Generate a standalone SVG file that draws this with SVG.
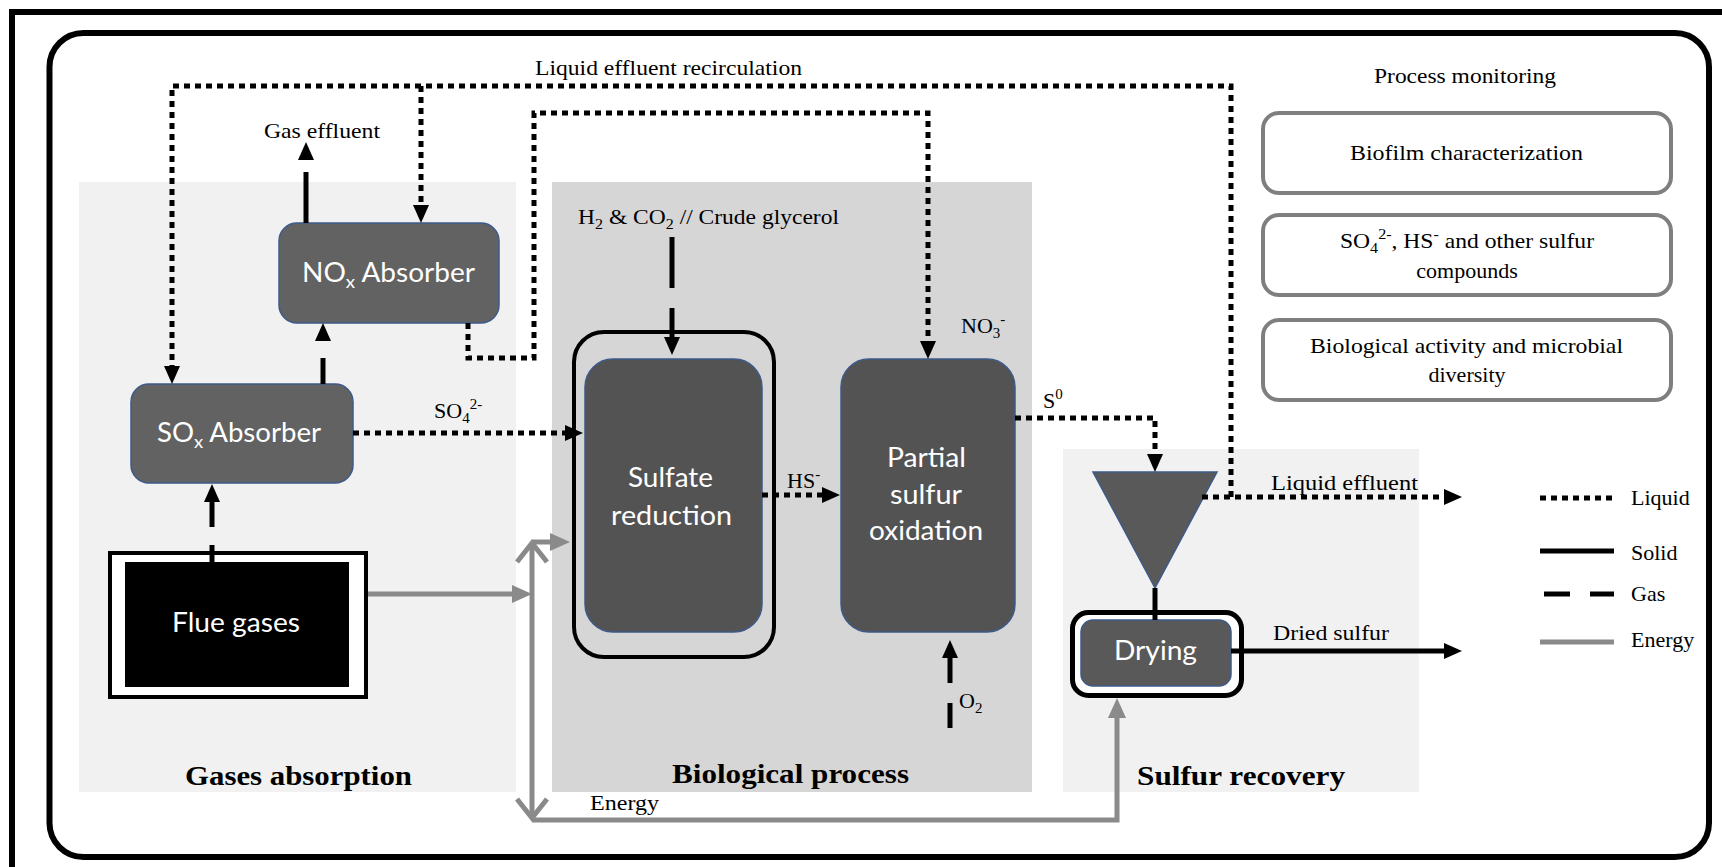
<svg xmlns="http://www.w3.org/2000/svg" width="1722" height="867" viewBox="0 0 1722 867">
<defs>
<style>
.t{font-family:"Liberation Serif","Times New Roman",serif;font-size:22px;fill:#000}
.tb{font-family:"Liberation Serif","Times New Roman",serif;font-size:28px;font-weight:bold;fill:#000}
.n{font-family:Lato,"Open Sans",sans-serif;font-size:27px;fill:#fff}
.s{font-size:15px}
.ns{font-size:18px}
.liq{fill:none;stroke:#000;stroke-width:5;stroke-dasharray:6 5}
.sol{fill:none;stroke:#000;stroke-width:5}
.en{fill:none;stroke:#8a8a8a;stroke-width:5}
.ah{fill:#000}
.box{fill:#626262;stroke:#3d5a8a;stroke-width:1.5}
.box2{fill:#535353;stroke:#3d5a8a;stroke-width:1.5}
.mon{fill:#fff;stroke:#7f7f7f;stroke-width:4}
.reg1{fill:#f1f1f1}
.reg2{fill:#d7d6d7}
</style>
<marker id="ab" markerUnits="userSpaceOnUse" markerWidth="18" markerHeight="16" refX="0" refY="8" orient="auto"><path d="M0,0 L18,8 L0,16 z" fill="#000"/></marker>
<marker id="ag" markerUnits="userSpaceOnUse" markerWidth="20" markerHeight="18" refX="0" refY="9" orient="auto"><path d="M0,0 L20,9 L0,18 z" fill="#8a8a8a"/></marker>
</defs>

<!-- frames -->
<path d="M12,867 V12 H1722" fill="none" stroke="#000" stroke-width="6"/>
<rect x="49.5" y="33" width="1659.5" height="824" rx="34" fill="#fff" stroke="#000" stroke-width="6"/>

<!-- regions -->
<g id="region-gases">
<rect class="reg1" x="79" y="182" width="437" height="610"/>
<text class="tb" x="185" y="785" textLength="227" lengthAdjust="spacingAndGlyphs">Gases absorption</text>
</g>
<g id="region-bio">
<rect class="reg2" x="552" y="182" width="480" height="610"/>
<text class="tb" x="672" y="783" textLength="237" lengthAdjust="spacingAndGlyphs">Biological process</text>
</g>
<g id="region-sulfur">
<rect class="reg1" x="1063" y="449" width="356" height="343"/>
<text class="tb" x="1137" y="785" textLength="208" lengthAdjust="spacingAndGlyphs">Sulfur recovery</text>
</g>

<!-- nodes -->
<g id="nox">
<rect class="box" x="279" y="223" width="220" height="100" rx="18"/>
<text class="n" x="302" y="282" textLength="173" lengthAdjust="spacingAndGlyphs">NO<tspan class="ns" dy="6">x</tspan><tspan dy="-6"> Absorber</tspan></text>
</g>
<g id="sox">
<rect class="box" x="131" y="384" width="222" height="99" rx="18"/>
<text class="n" x="157" y="442" textLength="164" lengthAdjust="spacingAndGlyphs">SO<tspan class="ns" dy="6">x</tspan><tspan dy="-6"> Absorber</tspan></text>
</g>
<g id="flue">
<rect x="110" y="553" width="256" height="144" fill="#fff" stroke="#000" stroke-width="4"/>
<rect x="125" y="562" width="224" height="125" fill="#000"/>
<text class="n" x="172" y="632" textLength="128" lengthAdjust="spacingAndGlyphs">Flue gases</text>
</g>
<g id="sulfate">
<rect x="574" y="332" width="200" height="325" rx="30" fill="none" stroke="#000" stroke-width="4"/>
<rect class="box2" x="585" y="359" width="177" height="273" rx="28"/>
<text class="n" x="628" y="487" textLength="85" lengthAdjust="spacingAndGlyphs">Sulfate</text>
<text class="n" x="611" y="525" textLength="121" lengthAdjust="spacingAndGlyphs">reduction</text>
</g>
<g id="partial">
<rect class="box2" x="841" y="359" width="174" height="273" rx="28"/>
<text class="n" x="887" y="467" textLength="79" lengthAdjust="spacingAndGlyphs">Partial</text>
<text class="n" x="890" y="504" textLength="72" lengthAdjust="spacingAndGlyphs">sulfur</text>
<text class="n" x="869" y="540" textLength="114" lengthAdjust="spacingAndGlyphs">oxidation</text>
</g>
<g id="settler">
<polygon points="1093,472 1217,472 1155,588" fill="#595959" stroke="#3d5a8a" stroke-width="1.5"/>
</g>
<g id="drying">
<rect x="1072.5" y="612.5" width="169" height="83" rx="16" fill="#fff" stroke="#000" stroke-width="5"/>
<rect x="1081" y="620" width="150" height="66" rx="12" fill="#595959" stroke="#3d5a8a" stroke-width="1.5"/>
<text class="n" x="1114" y="660" textLength="83" lengthAdjust="spacingAndGlyphs">Drying</text>
</g>

<g id="monitoring">
<text class="t" x="1374" y="83" textLength="182" lengthAdjust="spacingAndGlyphs">Process monitoring</text>
<g id="mon1">
<rect class="mon" x="1263" y="113" width="408" height="80" rx="16"/>
<text class="t" x="1350" y="160" textLength="233" lengthAdjust="spacingAndGlyphs">Biofilm  characterization</text>
</g>
<g id="mon2">
<rect class="mon" x="1263" y="215" width="408" height="80" rx="16"/>
<text class="t" x="1340" y="248" textLength="254" lengthAdjust="spacingAndGlyphs">SO<tspan class="s" dy="5">4</tspan><tspan class="s" dy="-14">2-</tspan><tspan dy="9">, HS</tspan><tspan class="s" dy="-9">-</tspan><tspan dy="9"> and other sulfur</tspan></text>
<text class="t" x="1467" y="278" text-anchor="middle">compounds</text>
</g>
<g id="mon3">
<rect class="mon" x="1263" y="320" width="408" height="80" rx="16"/>
<text class="t" x="1310" y="353" textLength="313" lengthAdjust="spacingAndGlyphs">Biological  activity and microbial</text>
<text class="t" x="1467" y="382" text-anchor="middle">diversity</text>
</g>
</g>

<!-- connectors -->
<g id="connectors">
<path class="liq" d="M1231,497 V86 H172 V366" marker-end="url(#ab)"/>
<path class="liq" d="M421,86 V205" marker-end="url(#ab)"/>
<path class="liq" d="M468,323 V358 H534 V113 H928 V341" marker-end="url(#ab)"/>
<path class="liq" d="M353,433 H565" marker-end="url(#ab)"/>
<path class="liq" d="M762,495 H822" marker-end="url(#ab)"/>
<path class="liq" d="M1015,418 H1155 V454" marker-end="url(#ab)"/>
<path class="liq" d="M1202,497 H1444" marker-end="url(#ab)"/>

<line class="sol" x1="306" y1="223" x2="306" y2="172"/>
<polygon class="ah" points="298,160 314,160 306,142"/>
<line class="sol" x1="323" y1="384" x2="323" y2="358"/>
<polygon class="ah" points="315,341 331,341 323,323"/>
<line class="sol" x1="212" y1="545" x2="212" y2="562"/>
<path class="sol" d="M212,527 V502" marker-end="url(#ab)"/>
<line class="sol" x1="672" y1="237" x2="672" y2="288"/>
<path class="sol" d="M672,308 V337" marker-end="url(#ab)"/>
<line class="sol" x1="950" y1="703" x2="950" y2="728"/>
<path class="sol" d="M950,683 V658" marker-end="url(#ab)"/>
<line class="sol" x1="1155" y1="588" x2="1155" y2="620"/>
<path class="sol" d="M1231,651 H1444" marker-end="url(#ab)"/>

<path class="en" d="M368,594 H512" marker-end="url(#ag)"/>
<path class="en" d="M532,544 V818"/>
<polyline class="en" points="517,562 532,543 547,562"/>
<polyline class="en" points="517,799 532,818 547,799"/>
<path class="en" d="M532,542 H550" marker-end="url(#ag)"/>
<path class="en" d="M532,820 H1117 V718" marker-end="url(#ag)"/>

<text class="t" x="535" y="75" textLength="267" lengthAdjust="spacingAndGlyphs">Liquid  effluent recirculation</text>
<text class="t" x="264" y="138" textLength="116" lengthAdjust="spacingAndGlyphs">Gas effluent</text>
<text class="t" x="578" y="224" textLength="261" lengthAdjust="spacingAndGlyphs">H<tspan class="s" dy="5">2</tspan><tspan dy="-5"> &amp; CO</tspan><tspan class="s" dy="5">2</tspan><tspan dy="-5"> // Crude glycerol</tspan></text>
<text class="t" x="961" y="333">NO<tspan class="s" dy="5">3</tspan><tspan class="s" dy="-14">-</tspan></text>
<text class="t" x="434" y="418">SO<tspan class="s" dy="5">4</tspan><tspan class="s" dy="-14">2-</tspan></text>
<text class="t" x="1043" y="408">S<tspan class="s" dy="-9">0</tspan></text>
<text class="t" x="787" y="488">HS<tspan class="s" dy="-9">-</tspan></text>
<text class="t" x="1271" y="490" textLength="147" lengthAdjust="spacingAndGlyphs">Liquid  effluent</text>
<text class="t" x="1273" y="640" textLength="116" lengthAdjust="spacingAndGlyphs">Dried sulfur</text>
<text class="t" x="959" y="708">O<tspan class="s" dy="5">2</tspan></text>
<text class="t" x="590" y="810" textLength="69" lengthAdjust="spacingAndGlyphs">Energy</text>
</g>

<g id="legend">
<line class="liq" x1="1540" y1="498" x2="1614" y2="498"/>
<line class="sol" x1="1540" y1="551" x2="1614" y2="551"/>
<line class="sol" x1="1544" y1="594" x2="1570" y2="594"/>
<line class="sol" x1="1590" y1="594" x2="1614" y2="594"/>
<line class="en" x1="1540" y1="642" x2="1614" y2="642"/>
<text class="t" x="1631" y="505">Liquid</text>
<text class="t" x="1631" y="560">Solid</text>
<text class="t" x="1631" y="601">Gas</text>
<text class="t" x="1631" y="647">Energy</text>
</g>
</svg>
